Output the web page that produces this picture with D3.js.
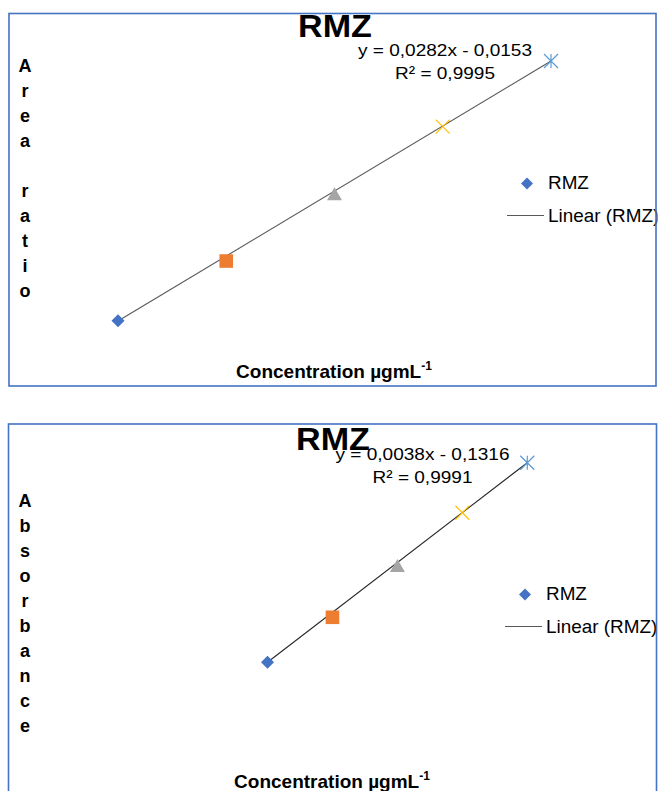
<!DOCTYPE html>
<html>
<head>
<meta charset="utf-8">
<script src="https://cdn.jsdelivr.net/npm/d3@7"></script>
<style>
    body { margin: 0; background: #fff; }
    svg { display: block; }
    text { font-family: 'Liberation Sans', Arial, sans-serif; fill: #000; }
</style>
</head>
<body>
<div id="chart"></div>
<script>
'use strict'

// data
const seriesName = 'RMZ';
const markerTypes = ['diamond', 'square', 'triangle', 'cross', 'asterisk'];
const markerColors = ['#4472C4', '#ED7D31', '#A5A5A5', '#FFC000', '#5B9BD5'];

const concentration1 = [10, 20, 30, 40, 50];
const areaRatio = [0.268, 0.527, 0.809, 1.110, 1.395];
const fit1 = [0.0282, -0.0153];
const equation1 = ['y = 0,0282x - 0,0153', 'R² = 0,9995'];

const concentration2 = [100, 150, 200, 250, 300];
const absorbance = [0.2484, 0.4197, 0.6085, 0.818, 1.0084];
const fit2 = [0.0038, -0.1316];
const equation2 = ['y = 0,0038x - 0,1316', 'R² = 0,9991'];

const xTitle = 'Concentration µgmL';
const xTitleSup = '-1';
const yTitle1 = 'Area ratio';
const yTitle2 = 'Absorbance';
const legendLabels = [seriesName, 'Linear (' + seriesName + ')'];

const width = 659;
const height = 791;

const svg = d3.select('#chart')
    .append('svg')
    .attr('width', width)
    .attr('height', height);

// marker shapes, r = half size
const markerPath = function(type, r) {
    const p = d3.path();
    if (type === 'diamond') {
        p.moveTo(0, -r); p.lineTo(r, 0); p.lineTo(0, r); p.lineTo(-r, 0); p.closePath();
    } else if (type === 'square') {
        p.rect(-r, -r, 2 * r, 2 * r);
    } else if (type === 'triangle') {
        const h = r * Math.sqrt(3);
        p.moveTo(0, -h * 2 / 3); p.lineTo(r, h / 3); p.lineTo(-r, h / 3); p.closePath();
    } else if (type === 'cross') {
        p.moveTo(-r, -r); p.lineTo(r, r); p.moveTo(r, -r); p.lineTo(-r, r);
    } else {
        p.moveTo(-r, -r); p.lineTo(r, r); p.moveTo(r, -r); p.lineTo(-r, r);
        p.moveTo(0, -r); p.lineTo(0, r);
    }
    return p.toString();
};
const markerSize = { diamond: 6.5, square: 6.8, triangle: 7.5, cross: 7, asterisk: 7 };
const filled = t => t === 'diamond' || t === 'square' || t === 'triangle';

const drawPanel = function(cfg) {
    const g = svg.append('g');

    g.append('clipPath').attr('id', cfg.id + '-clip')
        .append('rect')
        .attr('x', cfg.box[0]).attr('y', cfg.box[1])
        .attr('width', cfg.box[2] + 1.5).attr('height', cfg.box[3]);

    const inner = g.append('g').attr('clip-path', `url(#${cfg.id}-clip)`);

    const x = d3.scaleLinear().domain(cfg.xDomain).range(cfg.xRange);
    const y = d3.scaleLinear().domain(cfg.yDomain).range(cfg.yRange);

    // title
    inner.append('text')
        .attr('transform', `translate(${cfg.title[0]},${cfg.title[1]}) scale(1.1,1)`)
        .attr('text-anchor', 'middle')
        .style('font-weight', 'bold')
        .style('font-size', '31px')
        .text(seriesName);

    // trendline from the fitted equation
    const xs = d3.extent(cfg.xs);
    inner.append('line')
        .attr('x1', x(xs[0])).attr('y1', y(cfg.fit[0] * xs[0] + cfg.fit[1]))
        .attr('x2', x(xs[1])).attr('y2', y(cfg.fit[0] * xs[1] + cfg.fit[1]))
        .style('stroke', cfg.lineColor)
        .style('stroke-width', 1.1);

    // points
    inner.selectAll('.point')
        .data(cfg.xs.map((v, i) => ({ x: v, y: cfg.ys[i], type: markerTypes[i], color: markerColors[i] })))
        .enter().append('path')
        .attr('class', 'point')
        .attr('transform', d => `translate(${x(d.x)},${y(d.y)})`)
        .attr('d', d => markerPath(d.type, markerSize[d.type]))
        .style('fill', d => filled(d.type) ? d.color : 'none')
        .style('stroke', d => d.color)
        .style('stroke-width', d => filled(d.type) ? 0 : 1.2);

    // equation label
    cfg.equation.forEach((line, i) => {
        inner.append('text')
            .attr('transform', `translate(${cfg.eq[0]},${cfg.eq[1] + i * 23}) scale(1.12,1)`)
            .attr('text-anchor', 'middle')
            .style('font-size', '17px')
            .text(line);
    });

    // y title, one letter per line
    cfg.yTitle.split('').forEach((ch, i) => {
        inner.append('text')
            .attr('x', cfg.yLetters[0])
            .attr('y', cfg.yLetters[1] + i * 25)
            .attr('text-anchor', 'middle')
            .style('font-weight', 'bold')
            .style('font-size', '18px')
            .text(ch);
    });

    // x title
    const xt = inner.append('text')
        .attr('x', cfg.xTitle[0])
        .attr('y', cfg.xTitle[1])
        .attr('text-anchor', 'middle')
        .style('font-weight', 'bold')
        .style('font-size', '19px');
    xt.append('tspan').text(xTitle);
    xt.append('tspan').attr('dy', -8).style('font-size', '12px').text(xTitleSup);

    // legend
    const lg = cfg.legend;
    inner.append('path')
        .attr('transform', `translate(${lg[0] - 21},${lg[1] - 5})`)
        .attr('d', markerPath('diamond', 6))
        .style('fill', markerColors[0]);
    inner.append('line')
        .attr('x1', lg[0] - 41).attr('x2', lg[0] - 4)
        .attr('y1', lg[1] + 27).attr('y2', lg[1] + 27)
        .style('stroke', '#595959')
        .style('stroke-width', 1.1);
    legendLabels.forEach((label, i) => {
        inner.append('text')
            .attr('transform', `translate(${lg[0]},${lg[1] + i * 33.5}) scale(1.05,1)`)
            .style('font-size', '18px')
            .text(label);
    });

    // border
    g.append('rect')
        .attr('x', cfg.box[0]).attr('y', cfg.box[1])
        .attr('width', cfg.box[2]).attr('height', cfg.box[3])
        .style('fill', 'none')
        .style('stroke', '#4472C4')
        .style('stroke-width', 1.6);
};

drawPanel({
    id: 'p1',
    box: [9, 13.5, 647, 372.5],
    xs: concentration1, ys: areaRatio, fit: fit1, equation: equation1,
    xDomain: [10, 50], xRange: [118, 551],
    yDomain: [0, 1.6], yRange: [382.5, 13.7],
    lineColor: '#595959',
    title: [335, 37],
    eq: [445, 55.5],
    yTitle: yTitle1, yLetters: [25, 71.5],
    xTitle: [334, 378],
    legend: [548, 188.5]
});

drawPanel({
    id: 'p2',
    box: [8.5, 424, 648, 400],
    xs: concentration2, ys: absorbance, fit: fit2, equation: equation2,
    xDomain: [100, 300], xRange: [267.5, 527.3],
    yDomain: [0, 1.2], yRange: [727.5, 412.4],
    lineColor: '#262626',
    title: [333, 450],
    eq: [422.5, 459.5],
    yTitle: yTitle2, yLetters: [25, 507],
    xTitle: [332, 788],
    legend: [546, 599.5]
});
</script>
</body>
</html>
